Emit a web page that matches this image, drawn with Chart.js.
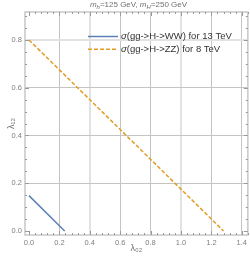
<!DOCTYPE html>
<html>
<head>
<meta charset="utf-8">
<script src="https://cdn.jsdelivr.net/npm/chart.js@4"></script>
<style>
  body { margin: 0; background: #fff; }
</style>
</head>
<body>
<canvas id="myChart" width="250" height="261"></canvas>
<script>
// series
const labels = ['σ(gg->H->WW) for 13 TeV', 'σ(gg->H->ZZ) for 8 TeV'];
const xWW = [0, 0.235];
const yWW = [0.148, 0];
const xZZ = [0, 1.28];
const yZZ = [0.8, 0];

const xTicks = [0, 0.2, 0.4, 0.6, 0.8, 1.0, 1.2, 1.4];
const yTicks = [0, 0.2, 0.4, 0.6, 0.8];
const xMinorStep = 0.04;
const yMinorStep = 0.05;

const tickFont = { family: 'Liberation Sans', size: 7.5 };
const tickColor = '#808080';

// frame + inward ticks on all four sides, like the original
const framePlugin = {
  id: 'frame',
  afterDraw(chart) {
    const c = chart.ctx;
    const a = chart.chartArea;
    const xs = chart.scales.x, ys = chart.scales.y;
    c.save();
    c.strokeStyle = '#c8c8c8';
    c.lineWidth = 1.5;
    c.strokeRect(a.left, a.top, a.right - a.left, a.bottom - a.top);

    c.strokeStyle = '#9a9a9a';
    c.lineWidth = 1;
    c.beginPath();
    for (let i = 0; i * xMinorStep <= xs.max; i++) {
      const px = Math.round(xs.getPixelForValue(i * xMinorStep)) + 0.5;
      const len = i % 5 === 0 ? 4 : 2;
      c.moveTo(px, a.bottom); c.lineTo(px, a.bottom - len);
      c.moveTo(px, a.top); c.lineTo(px, a.top + len);
    }
    for (let i = 0; i * yMinorStep <= ys.max; i++) {
      const py = Math.round(ys.getPixelForValue(i * yMinorStep)) + 0.5;
      const len = i % 4 === 0 ? 4 : 2;
      c.moveTo(a.left, py); c.lineTo(a.left + len, py);
      c.moveTo(a.right, py); c.lineTo(a.right - len, py);
    }
    c.stroke();

    // title with subscripts
    const big = '8px Liberation Sans', bigI = 'italic 8px Liberation Sans', sub = 'italic 6px Liberation Sans';
    const parts = [['m', bigI, 0], ['h', sub, 2], ['=125 GeV, ', big, 0], ['m', bigI, 0], ['H', sub, 2], ['=250 GeV', big, 0]];
    let w = 0;
    parts.forEach(p => { c.font = p[1]; w += c.measureText(p[0]).width; });
    let x = 138.5 - w / 2;
    c.fillStyle = '#707070';
    c.textBaseline = 'middle';
    parts.forEach(p => {
      c.font = p[1];
      c.fillText(p[0], x, 5 + p[2]);
      x += c.measureText(p[0]).width;
    });

    // legend inside the plot
    chart.data.datasets.forEach((ds, i) => {
      const y = a.top + 24.5 + i * 12.8;
      c.strokeStyle = ds.borderColor;
      c.lineWidth = ds.borderWidth;
      c.setLineDash(ds.borderDash || []);
      c.beginPath();
      c.moveTo(a.left + 63, y); c.lineTo(a.left + 93, y);
      c.stroke();
      c.setLineDash([]);
      c.fillStyle = '#333';
      let tx = a.left + 96;
      c.font = 'italic 9.5px Liberation Sans';
      c.fillText(ds.label[0], tx, y);
      tx += c.measureText(ds.label[0]).width;
      c.font = '9.5px Liberation Sans';
      c.fillText(ds.label.slice(1), tx, y);
    });
    c.restore();
  }
};

const ctx = document.getElementById('myChart').getContext('2d');
const chart = new Chart(ctx, {
  type: 'scatter',
  data: {
    datasets: [{
      label: labels[0],
      data: xWW.map((x, i) => ({ x: x, y: yWW[i] })),
      showLine: true,
      borderColor: '#5e81b5',
      borderWidth: 1.5,
      pointRadius: 0
    }, {
      label: labels[1],
      data: xZZ.map((x, i) => ({ x: x, y: yZZ[i] })),
      showLine: true,
      borderColor: '#e19c24',
      borderWidth: 1.5,
      borderDash: [4, 2],
      pointRadius: 0
    }]
  },
  options: {
    responsive: false,
    animation: false,
    layout: { padding: { top: 12, right: 1, left: 0, bottom: 0 } },
    plugins: { legend: { display: false }, title: { display: false }, tooltip: { enabled: false } },
    scales: {
      x: {
        type: 'linear',
        min: -0.026,
        max: 1.44,
        afterBuildTicks: s => { s.ticks = xTicks.map(v => ({ value: v })); },
        afterFit: s => { s.height = 26; },
        border: { display: false },
        grid: {
          drawTicks: false,
          color: c => c.tick.value === 0 ? 'rgba(0,0,0,0)' : ([0.4, 1.0].includes(c.tick.value) ? '#e2e2e2' : '#c4c4c4'),
          lineWidth: c => [0.4, 1.0].includes(c.tick.value) ? 2 : 1
        },
        ticks: { font: tickFont, color: tickColor, padding: 3, maxRotation: 0, callback: v => v.toFixed(1) },
        title: { display: true, text: 'λ₀₂', color: '#707070', font: { family: 'Liberation Sans', size: 9 }, padding: { top: 0, bottom: 7 } }
      },
      y: {
        type: 'linear',
        min: -0.017,
        max: 0.917,
        afterBuildTicks: s => { s.ticks = yTicks.map(v => ({ value: v })); },
        afterFit: s => { s.width = 25; },
        border: { display: false },
        grid: {
          drawTicks: false,
          color: c => c.tick.value === 0 ? 'rgba(0,0,0,0)' : (c.tick.value === 0.8 ? '#e2e2e2' : '#c4c4c4'),
          lineWidth: c => c.tick.value === 0.8 ? 2 : 1
        },
        ticks: { font: tickFont, color: tickColor, padding: 3, callback: v => v.toFixed(1) },
        title: { display: true, text: 'λ₁₂', color: '#707070', font: { family: 'Liberation Sans', size: 9 }, padding: { top: 6.6, bottom: 0 } }
      }
    }
  },
  plugins: [framePlugin]
});
</script>
</body>
</html>
